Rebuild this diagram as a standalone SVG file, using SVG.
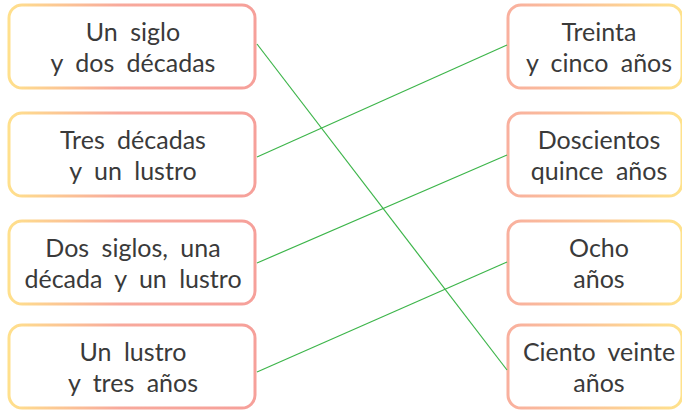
<svg xmlns="http://www.w3.org/2000/svg" width="682" height="411" viewBox="0 0 682 411">
<defs>
<linearGradient id="gl" x1="0" y1="0" x2="1" y2="0">
<stop offset="0" stop-color="#FFE08C"/>
<stop offset="0.45" stop-color="#F8A99C"/>
<stop offset="1" stop-color="#F6A09A"/>
</linearGradient>
<linearGradient id="gr" x1="0" y1="0" x2="1" y2="0">
<stop offset="0" stop-color="#F9B09E"/>
<stop offset="0.4" stop-color="#FBC29A"/>
<stop offset="1" stop-color="#FFE28C"/>
</linearGradient>
</defs>
<style>
.bl{fill:#fff;stroke:url(#gl);stroke-width:3}
.br{fill:#fff;stroke:url(#gr);stroke-width:3}
text{font-family:Lato,"Noto Sans",sans-serif;font-size:25px;font-weight:400;fill:#3a3a3a;text-anchor:middle;word-spacing:6px}
.c line{stroke:#3DB54A;stroke-width:1.2}
</style>
<g id="L1"><rect class="bl" x="9" y="5" width="246" height="83" rx="13"/><text x="133" y="41">Un siglo</text><text x="133" y="72">y dos décadas</text></g>
<g id="L2"><rect class="bl" x="9" y="113" width="246" height="83" rx="13"/><text x="133" y="149">Tres décadas</text><text x="133" y="180">y un lustro</text></g>
<g id="L3"><rect class="bl" x="9" y="221" width="246" height="83" rx="13"/><text x="133" y="257">Dos siglos, una</text><text x="133" y="288">década y un lustro</text></g>
<g id="L4"><rect class="bl" x="9" y="325" width="246" height="83" rx="13"/><text x="133" y="361">Un lustro</text><text x="133" y="392">y tres años</text></g>
<g id="R1"><rect class="br" x="508" y="5" width="174" height="83" rx="13"/><text x="599" y="41">Treinta</text><text x="599" y="72">y cinco años</text></g>
<g id="R2"><rect class="br" x="508" y="113" width="174" height="83" rx="13"/><text x="599" y="149">Doscientos</text><text x="599" y="180">quince años</text></g>
<g id="R3"><rect class="br" x="508" y="221" width="174" height="83" rx="13"/><text x="599" y="257">Ocho</text><text x="599" y="288">años</text></g>
<g id="R4"><rect class="br" x="508" y="325" width="174" height="83" rx="13"/><text x="599" y="361">Ciento veinte</text><text x="599" y="392">años</text></g>
<g class="c" id="connectors">
<line x1="257" y1="44" x2="507" y2="370"/>
<line x1="257" y1="157" x2="507" y2="45"/>
<line x1="257" y1="263" x2="507" y2="155"/>
<line x1="257" y1="372" x2="507" y2="262"/>
</g>
</svg>
